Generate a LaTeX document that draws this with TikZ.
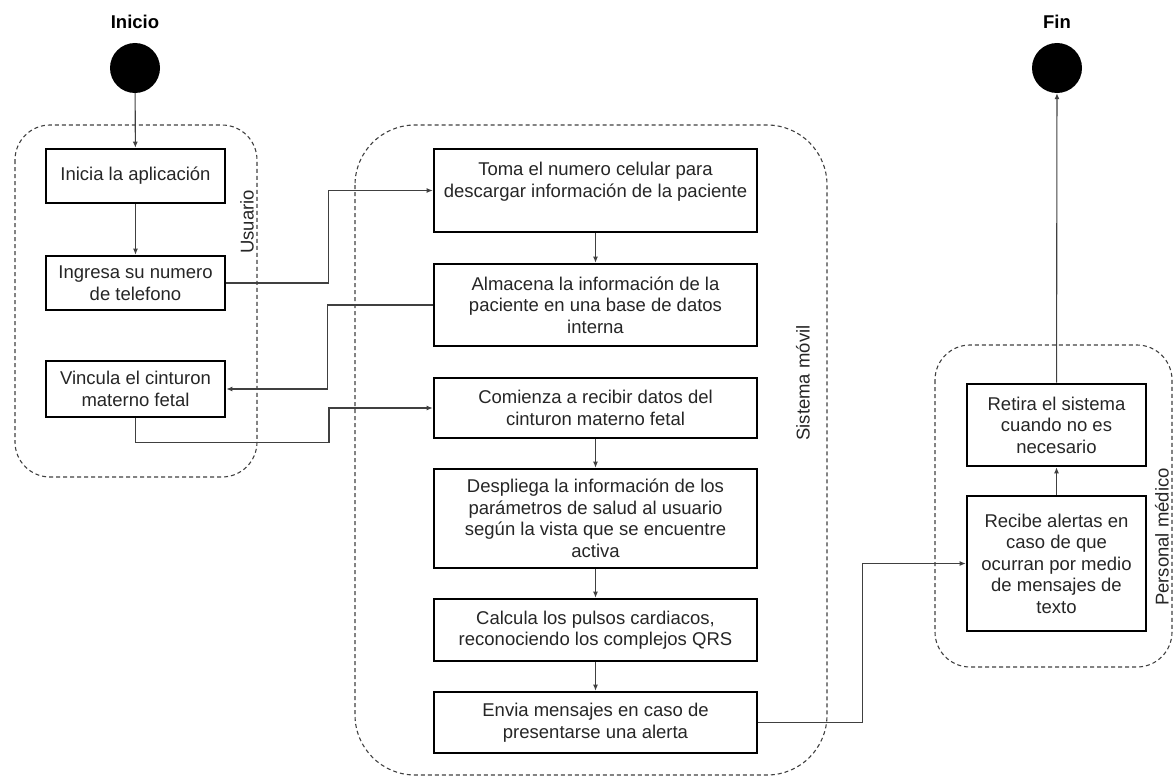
\documentclass[tikz,border=0pt]{standalone}
\usepackage{fontspec}
\setmainfont{Liberation Sans}
\usetikzlibrary{arrows.meta}
\newcommand{\boxfont}{\fontsize{18.5}{21.5}\selectfont}

\begin{document}
\begin{tikzpicture}[
  x=1pt, y=-1pt,
  stepbox/.style={draw, line width=2.6pt, rectangle, fill=white, align=center,
                  font=\boxfont, text=black!85, inner sep=2pt},
  userbox/.style={stepbox, minimum width=179pt},
  sysbox/.style={stepbox, minimum width=323pt},
  terminal/.style={circle, fill=black, minimum size=50pt, inner sep=0pt},
  lane/.style={draw=black!75, dash pattern=on 4pt off 3pt, line width=1.1pt},
  lanelabel/.style={rotate=90, font=\boxfont, text=black!85},
  arrow/.style={-{Latex[length=6pt,width=5pt]}, line width=1.1pt, draw=black!75}
]
\useasboundingbox (0,0) rectangle (1174,776);

% Lanes (drawn first)
\draw[lane, rounded corners=35pt] (15,125) rectangle (257,477);
\draw[lane, rounded corners=60pt] (355,125) rectangle (827,775);
\draw[lane, rounded corners=35pt] (935,345) rectangle (1172,667);

\node[lanelabel] (usuarioLbl) at (247,222) {Usuario};
\node[lanelabel] (sistemaLbl) at (803,383) {Sistema móvil};
\node[lanelabel] (personalLbl) at (1162,537) {Personal médico};

% Start and end
\node[font=\bfseries\boxfont] (inicioLbl) at (135,22) {Inicio};
\node[terminal] (inicio) at (135,68) {};
\node[font=\bfseries\boxfont] (finLbl) at (1057,22) {Fin};
\node[terminal] (fin) at (1057,68) {};

% Usuario
\node[userbox, minimum height=54pt] (inicia) at (135.5,176) {Inicia la aplicación};
\node[userbox, minimum height=54pt] (ingresa) at (135.5,283) {Ingresa su numero\\de telefono};
\node[userbox, minimum height=56pt] (vincula) at (135.5,389) {Vincula el cinturon\\materno fetal};

% Sistema movil
\node[sysbox, minimum height=83pt] (toma) at (595.5,190.5) {Toma el numero celular para\\descargar información de la paciente\\\mbox{}};
\node[sysbox, minimum height=82pt] (almacena) at (595.5,305) {Almacena la información de la\\paciente en una base de datos\\interna};
\node[sysbox, minimum height=60pt] (comienza) at (595.5,408) {Comienza a recibir datos del\\cinturon materno fetal};
\node[sysbox, minimum height=99pt] (despliega) at (595.5,518.5) {Despliega la información de los\\parámetros de salud al usuario\\según la vista que se encuentre\\activa};
\node[sysbox, minimum height=62pt] (calcula) at (595.5,630) {Calcula los pulsos cardiacos,\\reconociendo los complejos QRS};
\node[sysbox, minimum height=61pt] (envia) at (595.5,722.5) {Envia mensajes en caso de\\presentarse una alerta};

% Personal medico
\node[userbox, minimum height=82pt] (retira) at (1056.5,425) {Retira el sistema\\cuando no es\\necesario};
\node[userbox, minimum height=135pt] (recibe) at (1056.5,563.5) {Recibe alertas en\\caso de que\\ocurran por medio\\de mensajes de\\texto};

% Flow
\draw[arrow] (inicio) -- (inicia);
\draw[arrow] (inicia) -- (ingresa);
\draw[arrow] (ingresa.east) -- ++(102,0) |- (toma.west);
\draw[arrow] (toma) -- (almacena);
\draw[arrow] (almacena.west) -- ++(-105,0) |- (vincula.east);
\draw[arrow] (vincula.south) -- ++(0,24) -- ++(193.5,0) |- (comienza.west);
\draw[arrow] (comienza) -- (despliega);
\draw[arrow] (despliega) -- (calcula);
\draw[arrow] (calcula) -- (envia);
\draw[arrow] (envia.east) -- ++(104,0) |- (recibe.west);
\draw[arrow] (recibe) -- (retira);
\draw[arrow] (retira) -- (fin);

\end{tikzpicture}
\end{document}
